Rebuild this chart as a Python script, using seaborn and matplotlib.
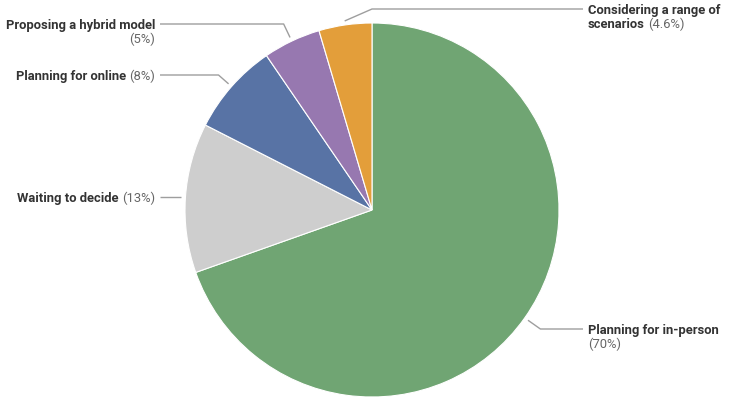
"""
Pie of event planning status with leader-line labels.
"""
import numpy as np
import matplotlib
matplotlib.use('Agg')
import matplotlib.pyplot as plt
import seaborn as sns

# --- Data ---
names = ['Planning for in-person', 'Waiting to decide', 'Planning for online',
         'Proposing a hybrid model', 'Considering a range of scenarios']
values = [70, 13, 8, 5, 4.6]
pct_labels = ['(70%)', '(13%)', '(8%)', '(5%)', '(4.6%)']
colors = ['#70a573', '#cecece', '#5873a5', '#9778b0', '#e39e3a']

# label text split into lines: (bold part, regular part)
label_lines = [
    [('Planning for in-person', ''), ('', '(70%)')],
    [('Waiting to decide', '(13%)')],
    [('Planning for online', '(8%)')],
    [('Proposing a hybrid model', ''), ('', '(5%)')],
    [('Considering a range of', ''), ('scenarios', '(4.6%)')],
]

# --- Layout (pixels, y measured from top) ---
W, H = 730, 401
CX, CY, R = 372, 210, 187
side = ['right', 'left', 'left', 'left', 'right']
label_y = [329, 197, 75, 24, 9]
elbow_x = [None, None, None, None, 372]
LEFT_END, LEFT_TEXT = 160, 155
RIGHT_END, RIGHT_TEXT = 583, 588
LINE_GAP = 14

sns.set_theme(style='white')
plt.rcParams['font.family'] = ['Roboto', 'DejaVu Sans']

fig = plt.figure(figsize=(7.3, 4.01), dpi=100)
ax = fig.add_axes([0, 0, 1, 1])
wedges, _ = ax.pie(values, colors=colors, startangle=90, counterclock=False,
                   center=(CX, H - CY), radius=R, frame=True,
                   wedgeprops=dict(edgecolor='white', linewidth=0.8))
ax.set_xlim(0, W)
ax.set_ylim(0, H)
ax.set_aspect('equal')
ax.axis('off')

renderer = fig.canvas.get_renderer()
FS = 9.4
BOLD_C, REG_C, LINE_C = '#333333', '#666666', '#9e9e9e'


def width_of(s, weight):
    if not s:
        return 0
    t = ax.text(0, 0, s, fontsize=FS, fontweight=weight)
    w = t.get_window_extent(renderer).width
    t.remove()
    return w


for i, w in enumerate(wedges):
    mid = np.deg2rad((w.theta1 + w.theta2) / 2)
    ly = label_y[i]
    # leader line
    x0 = CX + (R + 4) * np.cos(mid)
    y0 = CY - (R + 4) * np.sin(mid)
    if elbow_x[i] is not None:
        ex = elbow_x[i]
    elif abs(np.sin(mid)) > 0.2:
        ex = CX + (CY - ly) / np.tan(mid)
    else:
        ex = x0
    xe = LEFT_END if side[i] == 'left' else RIGHT_END
    ax.plot([x0, ex, xe], [H - y0, H - ly, H - ly], color=LINE_C, lw=1,
            solid_capstyle='butt')

    # label text
    for k, (bold, reg) in enumerate(label_lines[i]):
        base = H - (ly + 4.6 + k * LINE_GAP)
        wb = width_of(bold, 'bold')
        wr = width_of(reg, 'normal')
        gap = 3 if (bold and reg) else 0
        if side[i] == 'left':
            xs = LEFT_TEXT - (wb + gap + wr)
        else:
            xs = RIGHT_TEXT
        if bold:
            ax.text(xs, base, bold, fontsize=FS, fontweight='bold',
                    color=BOLD_C, va='baseline', ha='left')
        if reg:
            ax.text(xs + wb + gap, base, reg, fontsize=FS, color=REG_C,
                    va='baseline', ha='left')

fig.savefig('out.png', dpi=100)
